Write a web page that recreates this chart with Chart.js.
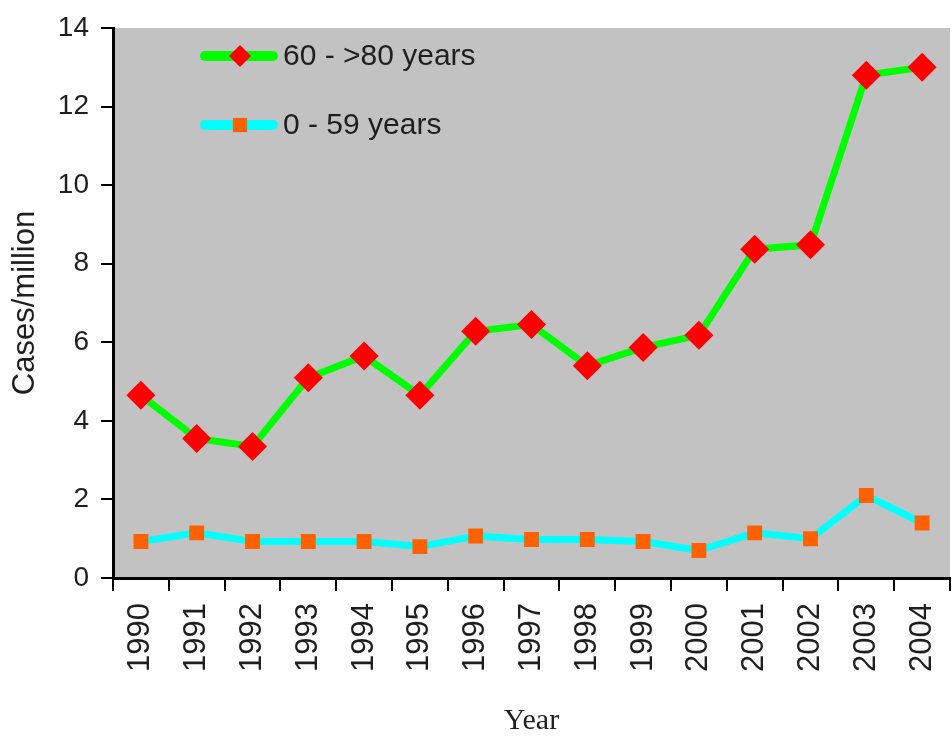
<!DOCTYPE html>
<html>
<head>
<meta charset="utf-8">
<script src="https://cdn.jsdelivr.net/npm/chart.js@4.4.1/dist/chart.umd.min.js"></script>
<style>
  html, body { margin: 0; padding: 0; background: #fff; }
  canvas { display: block; }
</style>
</head>
<body>
<canvas id="chart" width="952" height="736"></canvas>
<script>
// incidence per million, by age group
const years = ['1990', '1991', '1992', '1993', '1994', '1995', '1996', '1997',
  '1998', '1999', '2000', '2001', '2002', '2003', '2004'];
const olderCases = [4.65, 3.55, 3.35, 5.1, 5.65, 4.65, 6.28, 6.45, 5.4, 5.87, 6.18, 8.37, 8.48, 12.8, 13.0];
const youngerCases = [0.93, 1.15, 0.93, 0.93, 0.93, 0.8, 1.07, 0.98, 0.98, 0.93, 0.7, 1.15, 1.0, 2.1, 1.4];
const seriesNames = ['60 - >80 years', '0 - 59 years'];
const yMin = 0, yMax = 14, yStep = 2;

const textColor = '#1e1e1e';

// grey plot background
const plotBackground = {
  id: 'plotBackground',
  beforeDraw(chart) {
    const { ctx, chartArea: a } = chart;
    ctx.save();
    ctx.fillStyle = '#c2c2c2';
    ctx.fillRect(a.left, a.top, a.right - a.left, a.bottom - a.top);
    ctx.restore();
  }
};

// line + marker legend inside the plot
const lineLegend = {
  id: 'lineLegend',
  afterDraw(chart) {
    const { ctx, chartArea: a } = chart;
    const x0 = a.left + 92, x1 = a.left + 160;
    ctx.save();
    chart.data.datasets.forEach((ds, i) => {
      const y = a.top + 28 + i * 69;
      ctx.strokeStyle = ds.borderColor;
      ctx.lineWidth = 10;
      ctx.lineCap = 'round';
      ctx.beginPath();
      ctx.moveTo(x0, y);
      ctx.lineTo(x1, y);
      ctx.stroke();
      ctx.fillStyle = ds.pointBackgroundColor;
      Chart.helpers.drawPoint(ctx, {
        pointStyle: ds.pointStyle,
        radius: ds.legendRadius,
        rotation: 0,
        borderWidth: 0
      }, a.left + 127, y);
      ctx.fillStyle = textColor;
      ctx.font = '30px "Liberation Sans", Arial, sans-serif';
      ctx.textBaseline = 'middle';
      ctx.textAlign = 'left';
      ctx.fillText(ds.label, a.left + 170, y + 1);
    });
    ctx.restore();
  }
};

new Chart(document.getElementById('chart'), {
  type: 'line',
  data: {
    labels: years,
    datasets: [
      {
        label: seriesNames[0],
        data: olderCases,
        borderColor: '#00ff00',
        borderWidth: 7,
        pointStyle: 'rectRot',
        pointRadius: 14.5,
        legendRadius: 11,
        pointBackgroundColor: '#ff0000',
        pointBorderWidth: 0,
        tension: 0
      },
      {
        label: seriesNames[1],
        data: youngerCases,
        borderColor: '#00ffff',
        borderWidth: 7,
        pointStyle: 'rect',
        pointRadius: 10.5,
        legendRadius: 10,
        pointBackgroundColor: '#ff6000',
        pointBorderWidth: 0,
        tension: 0
      }
    ]
  },
  options: {
    responsive: false,
    animation: false,
    layout: { autoPadding: false, padding: { left: 0, right: 2, top: 28, bottom: 0 } },
    plugins: {
      legend: { display: false },
      tooltip: { enabled: false }
    },
    scales: {
      x: {
        offset: true,
        grid: {
          offset: true,
          drawOnChartArea: false,
          drawTicks: true,
          tickLength: 13,
          color: '#000',
          lineWidth: 2
        },
        border: { color: '#000', width: 3 },
        ticks: {
          color: textColor,
          font: { family: '"Liberation Sans", Arial, sans-serif', size: 31 },
          minRotation: 90,
          maxRotation: 90,
          padding: 12,
          autoSkip: false
        },
        title: {
          display: true,
          text: 'Year',
          color: textColor,
          font: { family: '"Liberation Serif", "Times New Roman", serif', size: 30, lineHeight: 1 },
          padding: { top: 0, bottom: 0 }
        },
        // rotated labels sit inside their category, so no side padding is needed
        afterFit(scale) {
          scale.height = 158;
          scale.paddingLeft = 0;
          scale.paddingRight = 0;
        }
      },
      y: {
        min: yMin,
        max: yMax,
        grid: {
          drawOnChartArea: false,
          drawTicks: true,
          tickLength: 12,
          color: '#000',
          lineWidth: 2
        },
        border: { color: '#000', width: 3 },
        ticks: {
          stepSize: yStep,
          color: textColor,
          font: { family: '"Liberation Sans", Arial, sans-serif', size: 28 },
          padding: 12
        },
        title: {
          display: true,
          text: 'Cases/million',
          color: textColor,
          font: { family: '"Liberation Sans", Arial, sans-serif', size: 31, lineHeight: 1 },
          padding: { top: 10, bottom: 0 }
        },
        afterFit(scale) {
          scale.width = 113;
          scale.paddingTop = 0;
          scale.paddingBottom = 0;
        }
      }
    }
  },
  plugins: [plotBackground, lineLegend]
});
</script>
</body>
</html>
